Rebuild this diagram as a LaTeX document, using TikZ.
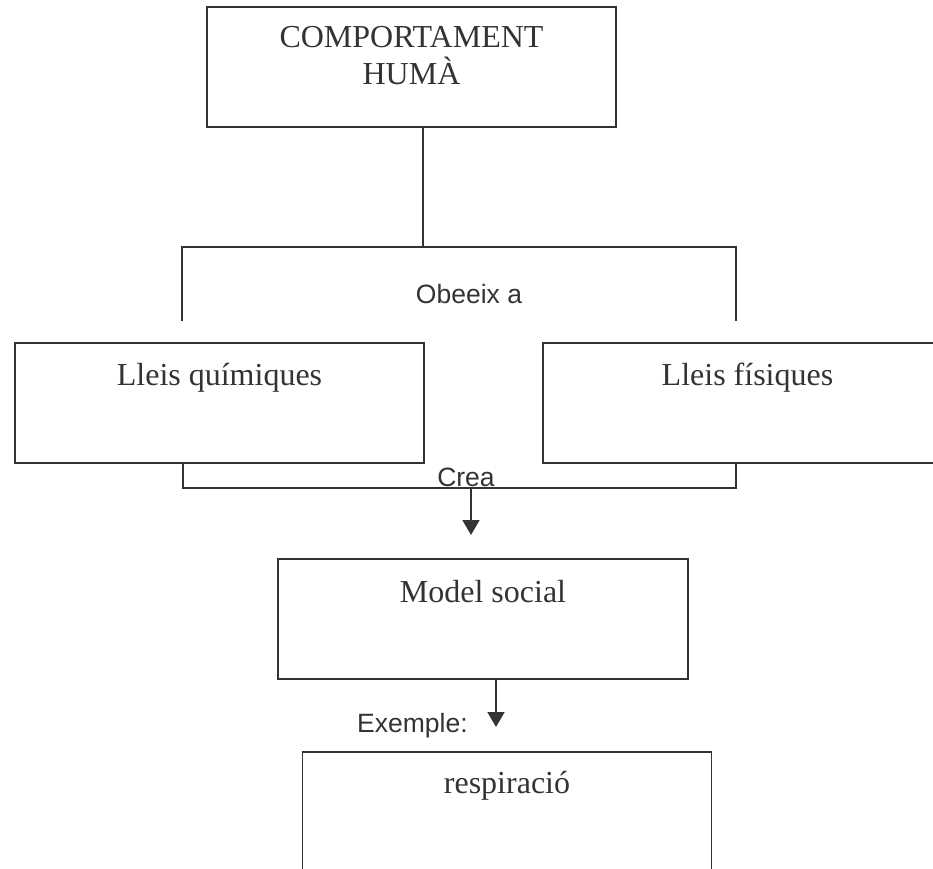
\documentclass[tikz,border=0pt]{standalone}
\usepackage{fontspec}
\setmainfont{Liberation Serif}
\newfontfamily\arialfont{Liberation Sans}
\usetikzlibrary{arrows.meta}
\definecolor{ink}{HTML}{333333}
\begin{document}
\begin{tikzpicture}[x=1pt,y=-1pt,
  box/.style={draw=ink, minimum width=409pt, minimum height=120pt, inner sep=0pt, line width=1.8pt},
  serif/.style={font=\fontsize{32}{37}\selectfont, text=ink, inner sep=0pt, align=center},
  sans/.style={font=\arialfont\fontsize{26.5}{30}\selectfont, text=ink, inner sep=0pt},
  link/.style={draw=ink, line width=1.8pt},
  arr/.style={link, -{Triangle[width=17pt,length=15pt]}}]
\useasboundingbox (0,0) rectangle (933,868);
\clip (0,0) rectangle (933,868);
% boxes
\node[box] (hum) at (411.5,67) {};
\node[serif, anchor=north] (humt) at (411.5,26) {COMPORTAMENT\\HUMÀ};
\node[box] (quim) at (219.5,403) {};
\node[serif, anchor=base] (quimt) at (219.5,385) {Lleis químiques};
\node[box] (fis) at (747.5,403) {};
\node[serif, anchor=base] (fist) at (747.5,385) {Lleis físiques};
\node[box, minimum width=410pt] (model) at (483,619) {};
\node[serif, anchor=base] (modelt) at (483,602) {Model social};
\node[box] (resp) at (507,812) {};
\node[serif, anchor=base] (respt) at (507,793) {respiració};
% labels
\node[sans, anchor=base] (obeeix) at (469,303) {Obeeix a};
\node[sans, anchor=base] (crea) at (466,486) {Crea};
\node[sans, anchor=base west] (exemple) at (357,732) {Exemple:};
% connector points
\coordinate (ob) at (423,247);
\coordinate (obL) at (182,247);
\coordinate (obLe) at (182,321);
\coordinate (obR) at (736,247);
\coordinate (obRe) at (736,321);
\coordinate (crL) at (183,488);
\coordinate (crR) at (736,488);
\coordinate (a1s) at (471,488);
\coordinate (a1e) at (471,535);
\coordinate (a2) at (496,0);
\coordinate (a2e) at (496,727);
% connectors
\draw[link] (hum.south -| ob) -- (ob);
\draw[link] (obLe) -- (obL) -- (obR) -- (obRe);
\draw[link] (quim.south -| crL) -- (crL) -- (crR) -- (fis.south -| crR);
\draw[arr] (a1s) -- (a1e);
\draw[arr] (model.south -| a2) -- (a2e);
\end{tikzpicture}
\end{document}
